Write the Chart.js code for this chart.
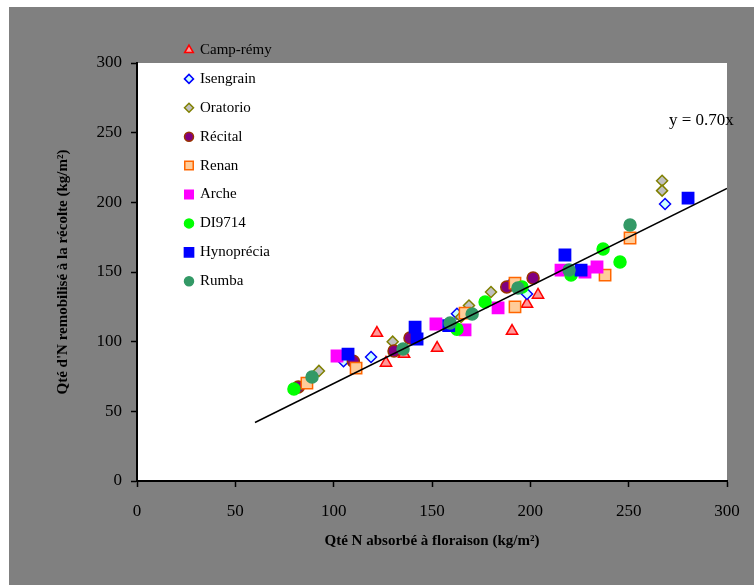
<!DOCTYPE html>
<html>
<head>
<meta charset="utf-8">
<script src="https://cdn.jsdelivr.net/npm/chart.js@4"></script>
<style>
  body { margin: 0; background: #fff; }
  #frame { position: absolute; left: 9px; top: 7px; right: 0; bottom: 0; background: #808080; }
  #wrap { position: absolute; left: 0; top: 0; width: 754px; height: 585px; }
</style>
</head>
<body>
<div id="frame"></div>
<div id="wrap"><canvas id="chart" width="754" height="585"></canvas></div>
<script>
const FONT = '"Liberation Serif", "Times New Roman", serif';

// values
const campRemyX = [122, 126.6, 135.8, 152.6, 190.7, 198.3, 203.9];
const campRemyY = [106.2, 84.7, 91.1, 95.4, 107.6, 127, 133.5];
const isengrainX = [105, 119, 162.7, 189, 198.3, 268.5];
const isengrainY = [86, 89, 120, 140, 134.2, 198.8];
const oratorioX = [92.5, 130, 164.8, 168.8, 180, 267, 267];
const oratorioY = [79, 100, 117.7, 126, 135.6, 215.5, 208.4];
const recitalX = [82, 110, 130.7, 138.8, 188, 201.4];
const recitalY = [67.5, 86, 93.3, 102.6, 139.3, 145.7];
const renanX = [86.4, 111.4, 166.8, 192.2, 192.2, 238, 250.7];
const renanY = [70.3, 81, 120.5, 142, 125, 147.8, 174.4];
const archeX = [101.7, 152, 166.8, 183.6, 215.6, 227.8, 233.9];
const archeY = [89.7, 112.7, 108.4, 124.2, 151.4, 150, 153.6];
const di9714X = [79.8, 162.7, 177, 195.8, 220.7, 237, 245.6];
const di9714Y = [66, 109, 128.5, 139.3, 147.8, 166.5, 157.2];
const hynoX = [107.3, 141.4, 142.4, 158.5, 217.6, 225.8, 280.2];
const hynoY = [91.1, 110.5, 101.9, 111.5, 162.2, 151.4, 203];
const rumbaX = [89, 135.3, 159.2, 170.4, 193.7, 219.7, 250.7];
const rumbaY = [74.6, 94.7, 113.4, 119.9, 138.5, 151.4, 183.7];

// linear trend y = 0.70x
const trendX = [60, 300];
const trendY = [42, 210];
const trendLabel = 'y = 0.70x';

const xTicks = [0, 50, 100, 150, 200, 250, 300];
const yTicks = [0, 50, 100, 150, 200, 250, 300];

function pts(xs, ys) {
  return xs.map((x, i) => ({ x: x, y: ys[i] }));
}

const series = [
  { label: 'Camp-rémy', xs: campRemyX, ys: campRemyY, style: 'triangle', r: 6.5, fill: '#ff9999', stroke: '#ff0000', lr: 5 },
  { label: 'Isengrain', xs: isengrainX, ys: isengrainY, style: 'rectRot', r: 5.5, fill: '#ccffff', stroke: '#0000ff', lr: 4.5 },
  { label: 'Oratorio', xs: oratorioX, ys: oratorioY, style: 'rectRot', r: 5.5, fill: '#c0c0c0', stroke: '#808000', lr: 4.5 },
  { label: 'Récital', xs: recitalX, ys: recitalY, style: 'circle', r: 6, fill: '#800080', stroke: '#993300', lr: 4.5 },
  { label: 'Renan', xs: renanX, ys: renanY, style: 'rect', r: 8, fill: '#ffcc99', stroke: '#ff6600', lr: 6 },
  { label: 'Arche', xs: archeX, ys: archeY, style: 'rect', r: 8, fill: '#ff00ff', stroke: '#ff00ff', lr: 6 },
  { label: 'DI9714', xs: di9714X, ys: di9714Y, style: 'circle', r: 6, fill: '#00ff00', stroke: '#00ff00', lr: 4.5 },
  { label: 'Hynoprécia', xs: hynoX, ys: hynoY, style: 'rect', r: 8, fill: '#0000ff', stroke: '#0000ff', lr: 6.5 },
  { label: 'Rumba', xs: rumbaX, ys: rumbaY, style: 'circle', r: 6, fill: '#339966', stroke: '#339966', lr: 4.5 }
];

const datasets = series.map((s, i) => ({
  label: s.label,
  data: pts(s.xs, s.ys),
  pointStyle: s.style,
  pointRadius: s.r,
  backgroundColor: s.fill,
  borderColor: s.stroke,
  borderWidth: 1.5,
  showLine: false,
  order: series.length - i
}));

datasets.push({
  label: 'trend',
  type: 'line',
  data: pts(trendX, trendY),
  borderColor: '#000',
  borderWidth: 1.5,
  pointRadius: 0,
  fill: false,
  order: 0
});

// white plot background
const plotBg = {
  id: 'plotBg',
  beforeDraw(chart) {
    const { ctx, chartArea: a } = chart;
    ctx.save();
    ctx.fillStyle = '#fff';
    ctx.fillRect(a.left, a.top, a.right - a.left, a.bottom - a.top);
    ctx.restore();
  }
};

// legend list at top-left + equation label
const extras = {
  id: 'extras',
  afterDraw(chart) {
    const ctx = chart.ctx;
    ctx.save();
    series.forEach((s, i) => {
      const y = 50 + i * 28.9;
      ctx.fillStyle = s.fill;
      ctx.strokeStyle = s.stroke;
      ctx.lineWidth = 1.5;
      Chart.helpers.drawPoint(ctx, { pointStyle: s.style, radius: s.lr, borderWidth: 1.5 }, 189, y);
      ctx.fillStyle = '#000';
      ctx.font = '15px ' + FONT;
      ctx.textBaseline = 'middle';
      ctx.textAlign = 'left';
      ctx.fillText(s.label, 200, y);
    });
    const xs = chart.scales.x, ys = chart.scales.y;
    ctx.font = '17px ' + FONT;
    ctx.textAlign = 'center';
    ctx.fillStyle = '#000';
    ctx.fillText(trendLabel, xs.getPixelForValue(287), ys.getPixelForValue(259));
    ctx.restore();
  }
};

new Chart(document.getElementById('chart'), {
  type: 'scatter',
  data: { datasets: datasets },
  options: {
    responsive: false,
    animation: false,
    layout: { padding: { top: 63, right: 27, left: 0, bottom: 0 } },
    plugins: {
      legend: { display: false },
      tooltip: { enabled: false }
    },
    scales: {
      x: {
        type: 'linear',
        min: 0,
        max: 300,
        afterFit: s => { s.height = 104; },
        afterBuildTicks: s => { s.ticks = xTicks.map(v => ({ value: v })); },
        border: { color: '#000', width: 2 },
        grid: { drawOnChartArea: false, drawTicks: true, tickLength: 6, tickColor: '#000', tickWidth: 1.5 },
        ticks: { color: '#000', font: { family: FONT, size: 17 }, padding: 14 },
        title: {
          display: true,
          text: 'Qté N absorbé à floraison (kg/m²)',
          color: '#000',
          font: { family: FONT, size: 15, weight: 'bold' },
          padding: { top: 0, bottom: 35 }
        }
      },
      y: {
        type: 'linear',
        min: 0,
        max: 300,
        afterFit: s => { s.width = 137; },
        afterBuildTicks: s => { s.ticks = yTicks.map(v => ({ value: v })); },
        border: { color: '#000', width: 2 },
        grid: { drawOnChartArea: false, drawTicks: true, tickLength: 6, tickColor: '#000', tickWidth: 1.5 },
        ticks: { color: '#000', font: { family: FONT, size: 17 }, padding: 9 },
        title: {
          display: true,
          text: "Qté d'N remobilisé à la récolte (kg/m²)",
          color: '#000',
          font: { family: FONT, size: 15, weight: 'bold' },
          padding: { top: 54, bottom: 0 }
        }
      }
    }
  },
  plugins: [plotBg, extras]
});
</script>
</body>
</html>
